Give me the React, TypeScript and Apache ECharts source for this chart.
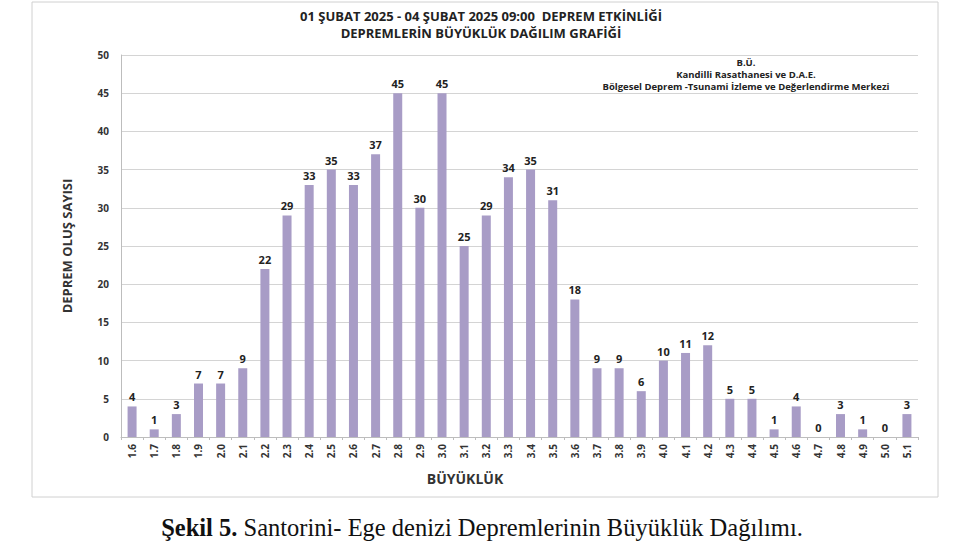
import React, { useEffect, useRef } from "react";
import * as echarts from "echarts";

const categories = ["1.6","1.7","1.8","1.9","2.0","2.1","2.2","2.3","2.4","2.5","2.6","2.7","2.8","2.9","3.0","3.1","3.2","3.3","3.4","3.5","3.6","3.7","3.8","3.9","4.0","4.1","4.2","4.3","4.4","4.5","4.6","4.7","4.8","4.9","5.0","5.1"];
const counts = [4,1,3,7,7,9,22,29,33,35,33,37,45,30,45,25,29,34,35,31,18,9,9,6,10,11,12,5,5,1,4,0,3,1,0,3];
const titleLines = ["01 ŞUBAT 2025 - 04 ŞUBAT 2025 09:00  DEPREM ETKİNLİĞİ", "DEPREMLERİN BÜYÜKLÜK DAĞILIM GRAFİĞİ"];
const noteLines = ["B.Ü.", "Kandilli Rasathanesi ve D.A.E.", "Bölgesel Deprem -Tsunami İzleme ve Değerlendirme Merkezi"];
const yAxisTitle = "DEPREM OLUŞ SAYISI";
const xAxisTitle = "BÜYÜKLÜK";
const captionBold = "Şekil 5.";
const captionText = " Santorini- Ege denizi Depremlerinin Büyüklük Dağılımı.";

const FONT = "'Open Sans', 'Noto Sans', sans-serif";

export default function App() {
  const ref = useRef<HTMLDivElement>(null);
  useEffect(() => {
    if (!ref.current) return;
    const chart = echarts.init(ref.current, null, { renderer: "svg" });
    chart.setOption({
      animation: false,
      backgroundColor: "#ffffff",
      grid: { left: 121, right: 53, top: 55, bottom: 114 },
      xAxis: {
        type: "category",
        data: categories,
        axisLine: { lineStyle: { color: "#bdbdbd" } },
        axisTick: { show: true, length: 3, lineStyle: { color: "#bdbdbd" } },
        axisLabel: { rotate: 90, interval: 0, fontFamily: FONT, fontWeight: "bold", fontSize: 10, color: "#333", margin: 7 },
      },
      yAxis: {
        type: "value",
        min: 0,
        max: 50,
        interval: 5,
        name: yAxisTitle,
        nameLocation: "middle",
        nameGap: 48,
        nameRotate: 90,
        nameTextStyle: { fontFamily: FONT, fontWeight: "bold", fontSize: 13, color: "#333" },
        axisLine: { show: true, lineStyle: { color: "#bdbdbd" } },
        axisTick: { show: false },
        axisLabel: { fontFamily: FONT, fontWeight: "bold", fontSize: 10, color: "#333", margin: 12 },
        splitLine: { lineStyle: { color: "#d4d4d4" } },
      },
      series: [
        {
          type: "bar",
          data: counts,
          barWidth: 9,
          itemStyle: { color: "#a89cc6" },
          label: { show: true, position: "top", fontFamily: FONT, fontWeight: "bold", fontSize: 11, color: "#222", distance: 4 },
        },
      ],
      graphic: [
        { type: "rect", shape: { x: 32, y: 2, width: 906, height: 495 }, style: { fill: "none", stroke: "#d0d0d0", lineWidth: 1 }, z: -1 },
        { type: "text", x: 481, y: 16, style: { text: titleLines[0], font: `bold 13px ${FONT}`, fill: "#222", align: "center", verticalAlign: "middle" } },
        { type: "text", x: 481, y: 33, style: { text: titleLines[1], font: `bold 13px ${FONT}`, fill: "#222", align: "center", verticalAlign: "middle" } },
        { type: "text", x: 746, y: 62, style: { text: noteLines[0], font: `bold 9.5px ${FONT}`, fill: "#222", align: "center", verticalAlign: "middle" } },
        { type: "text", x: 746, y: 74, style: { text: noteLines[1], font: `bold 9.5px ${FONT}`, fill: "#222", align: "center", verticalAlign: "middle" } },
        { type: "text", x: 746, y: 86, style: { text: noteLines[2], font: `bold 9.5px ${FONT}`, fill: "#222", align: "center", verticalAlign: "middle" } },
        { type: "text", x: 465, y: 478, style: { text: xAxisTitle, font: `bold 14px ${FONT}`, fill: "#333", align: "center", verticalAlign: "middle" } },
        {
          type: "text",
          x: 482,
          y: 527,
          style: {
            text: `{b|${captionBold}}{n|${captionText}}`,
            align: "center",
            verticalAlign: "middle",
            rich: {
              b: { fontFamily: "'Liberation Serif', serif", fontWeight: "bold", fontSize: 24.5, fill: "#111" },
              n: { fontFamily: "'Liberation Serif', serif", fontSize: 24.5, fill: "#111" },
            },
          },
        },
      ],
    });
    return () => chart.dispose();
  }, []);
  return <div ref={ref} style={{ position: "fixed", left: 0, top: 0, width: 971, height: 551 }} />;
}
